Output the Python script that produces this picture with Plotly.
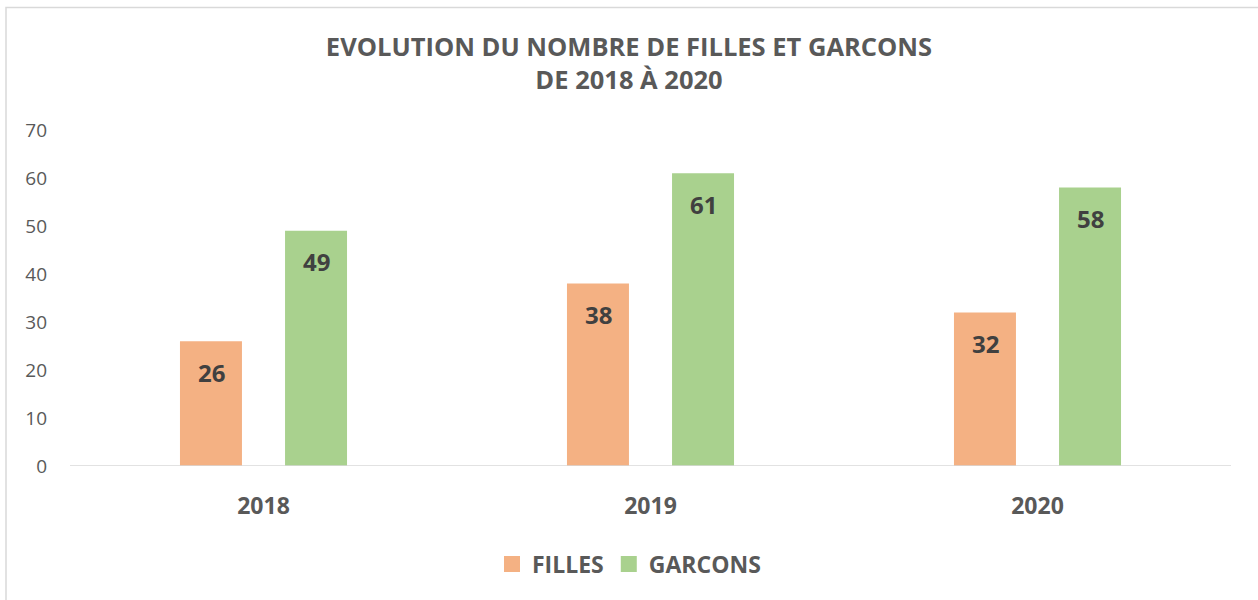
import plotly.graph_objects as go

years = ["2018", "2019", "2020"]
filles = [26, 38, 32]
garcons = [49, 61, 58]
series_names = ["FILLES", "GARCONS"]
colors = ["#F4B183", "#A9D18E"]
y_ticks = [0, 10, 20, 30, 40, 50, 60, 70]

FONT = "Open Sans"

fig = go.Figure()
for name, vals, col in zip(series_names, [filles, garcons], colors):
    fig.add_trace(go.Bar(
        name=name, x=years, y=vals, marker=dict(color=col, line=dict(width=0)),
        hoverinfo="x+y", showlegend=False,
    ))
# legend entries with larger square swatches
for name, col in zip(series_names, colors):
    fig.add_trace(go.Scatter(
        name=name, x=[years[0]], y=[None], mode="markers",
        marker=dict(symbol="square", size=17, color=col), showlegend=True,
    ))

# data labels positioned inside near the top of each bar
for vals, shift in zip([filles, garcons], [-52.5, 52.5]):
    for i, v in enumerate(vals):
        fig.add_annotation(
            x=i, y=v, xref="x", yref="y", text=f"<b>{v}</b>", showarrow=False,
            xshift=shift, yshift=-31, yanchor="middle",
            font=dict(family=FONT, size=24, color="#404040"),
        )

# outer chart border
fig.add_shape(type="rect", xref="paper", yref="paper",
              x0=(6 - 70) / 1161, x1=1.1, y0=-0.6, y1=1 + (130 - 7.5) / 336,
              line=dict(color="#D9D9D9", width=1.5), fillcolor="rgba(0,0,0,0)", layer="below")

fig.update_layout(
    width=1258, height=600,
    margin=dict(l=70, r=27, t=130, b=134, autoexpand=False),
    paper_bgcolor="white", plot_bgcolor="white",
    barmode="group", bargap=0.457, bargroupgap=0.41,
    title=dict(
        text="<b>EVOLUTION DU NOMBRE DE FILLES ET GARCONS<br>DE 2018 À 2020</b>",
        x=0.5, xref="container", xanchor="center",
        y=1 - 55.5 / 600, yref="container", yanchor="middle",
        font=dict(family=FONT, size=25.5, color="#595959"),
    ),
    font=dict(family=FONT, color="#595959"),
    xaxis=dict(
        type="category", automargin=False, range=[-0.5, 2.5],
        categoryorder="array", categoryarray=years,
        showgrid=False, showline=False, zeroline=False, ticks="",
        tickfont=dict(family=FONT, size=23, color="#595959", weight="bold"),
        ticklabelstandoff=24,
    ),
    yaxis=dict(
        range=[0, 70], tickvals=y_ticks, showgrid=False, zeroline=False,
        showline=False, ticks="", automargin=False,
        tickfont=dict(family=FONT, size=19, color="#595959"),
        ticklabelstandoff=22,
    ),
    legend=dict(
        orientation="h", x=0.5, xanchor="center", xref="container",
        y=36 / 600, yref="container", yanchor="middle",
        font=dict(family=FONT, size=23, color="#595959", weight="bold"),
        itemwidth=30, tracegroupgap=0,
    ),
    showlegend=True,
)

# baseline (category axis line)
fig.add_shape(type="line", xref="paper", yref="y", x0=0, x1=1, y0=0, y1=0,
              line=dict(color="#D9D9D9", width=1.5))

fig.write_html("out.html", config={"displayModeBar": False},
               post_script="document.body.style.margin='0px';")
